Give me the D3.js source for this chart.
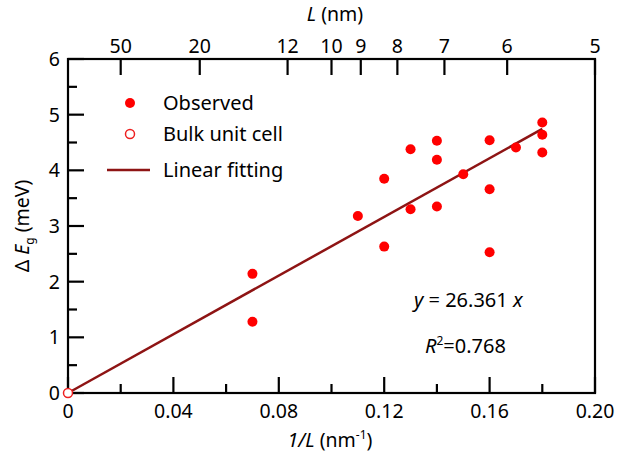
<!DOCTYPE html>
<html><head><meta charset="utf-8">
<script src="https://cdn.jsdelivr.net/npm/d3@7"></script>
<style>
body{margin:0;background:#fff;}
svg{font-family:"Noto Sans",sans-serif;}
</style></head><body>
<svg id="c" width="617" height="456"></svg>
<script>
const obsX = [0.07,0.07,0.11,0.12,0.12,0.13,0.13,0.14,0.14,0.14,0.15,0.16,0.16,0.16,0.17,0.18,0.18,0.18];
const obsY = [2.14,1.28,3.18,3.85,2.63,4.38,3.30,4.53,4.19,3.35,3.93,4.54,3.66,2.53,4.41,4.86,4.64,4.32];
const bulkX = [0], bulkY = [0];
const slope = 26.361;
const fitX = [0, 0.18];
const xTicks = [0,0.04,0.08,0.12,0.16,0.20];
const xTickLabels = ["0","0.04","0.08","0.12","0.16","0.20"];
const yTicks = [0,1,2,3,4,5,6];
const topL = [50,20,12,10,9,8,7,6,5];

const svg = d3.select("#c");
const x = d3.scaleLinear().domain([0,0.2]).range([68,595]);
const y = d3.scaleLinear().domain([0,6]).range([393,59]);
const fs = 19.5;

// frame
svg.append("rect").attr("x",68).attr("y",59).attr("width",595-68).attr("height",393-59)
  .attr("fill","none").attr("stroke","#000").attr("stroke-width",2.2);

const major = 16, minor = 9;
const tk = svg.append("g").attr("stroke","#000").attr("stroke-width",2.2);
// bottom
d3.range(0,0.2001,0.02).forEach((v,i)=>{
  const L = (i%2===0)?major:minor;
  tk.append("line").attr("x1",x(v)).attr("x2",x(v)).attr("y1",393).attr("y2",393-L);
});
// left
d3.range(0,6.001,0.5).forEach((v,i)=>{
  const L = (i%2===0)?major:minor;
  tk.append("line").attr("x1",68).attr("x2",68+L).attr("y1",y(v)).attr("y2",y(v));
});
// top
topL.forEach(l=>{
  tk.append("line").attr("x1",x(1/l)).attr("x2",x(1/l)).attr("y1",59).attr("y2",59+major);
});

// labels
const lab = svg.append("g").attr("font-size",fs).attr("fill","#000");
xTicks.forEach((v,i)=>{
  lab.append("text").attr("x",x(v)).attr("y",418).attr("text-anchor","middle").text(xTickLabels[i]);
});
yTicks.forEach(v=>{
  lab.append("text").attr("x",60).attr("y",y(v)+7).attr("text-anchor","end").text(v);
});
topL.forEach(l=>{
  lab.append("text").attr("x",x(1/l)).attr("y",53).attr("text-anchor","middle").text(l);
});
// axis titles
const xt = lab.append("text").attr("x",330).attr("y",447).attr("text-anchor","middle");
xt.append("tspan").attr("font-style","italic").text("1/L");
xt.append("tspan").text(" (nm");
xt.append("tspan").attr("font-size",12).attr("dy",-8).text("-1");
xt.append("tspan").attr("dy",8).text(")");

const tt = lab.append("text").attr("x",335).attr("y",21).attr("text-anchor","middle");
tt.append("tspan").attr("font-style","italic").text("L");
tt.append("tspan").text(" (nm)");

const yt = lab.append("text").attr("transform","translate(29,226) rotate(-90)").attr("text-anchor","middle");
yt.append("tspan").text("Δ ");
yt.append("tspan").attr("font-style","italic").text("E");
yt.append("tspan").attr("font-size",12).attr("dy",5).text("g");
yt.append("tspan").attr("dy",-5).text(" (meV)");

// fit line
svg.append("line").attr("x1",x(fitX[0])).attr("y1",y(slope*fitX[0]))
  .attr("x2",x(fitX[1])).attr("y2",y(slope*fitX[1]))
  .attr("stroke","#8e1414").attr("stroke-width",2.5);

// observed
svg.append("g").selectAll("circle").data(obsX).join("circle")
  .attr("cx",d=>x(d)).attr("cy",(d,i)=>y(obsY[i])).attr("r",5).attr("fill","#ff0000");

// bulk
svg.append("g").selectAll("circle").data(bulkX).join("circle")
  .attr("cx",d=>x(d)).attr("cy",(d,i)=>y(bulkY[i])).attr("r",4.5)
  .attr("fill","#fff").attr("stroke","#ee2020").attr("stroke-width",1.5);

// legend
svg.append("circle").attr("cx",130).attr("cy",103).attr("r",5).attr("fill","#ff0000");
svg.append("circle").attr("cx",130).attr("cy",134).attr("r",4.5).attr("fill","#fff").attr("stroke","#ee2020").attr("stroke-width",1.5);
svg.append("line").attr("x1",107).attr("x2",150).attr("y1",170).attr("y2",170).attr("stroke","#8e1414").attr("stroke-width",2.5);
const lg = svg.append("g").attr("font-size",20);
lg.append("text").attr("x",163).attr("y",110).text("Observed");
lg.append("text").attr("x",163).attr("y",141).text("Bulk unit cell");
lg.append("text").attr("x",163).attr("y",177).text("Linear fitting");

// equation
const eq = lg.append("text").attr("x",414).attr("y",307);
eq.append("tspan").attr("font-style","italic").text("y");
eq.append("tspan").text(" = 26.361 ");
eq.append("tspan").attr("font-style","italic").text("x");
const r2 = lg.append("text").attr("x",425).attr("y",353);
r2.append("tspan").attr("font-style","italic").text("R");
r2.append("tspan").attr("font-size",12).attr("dy",-8).text("2");
r2.append("tspan").attr("dy",8).text("=0.768");
</script>
</body></html>
